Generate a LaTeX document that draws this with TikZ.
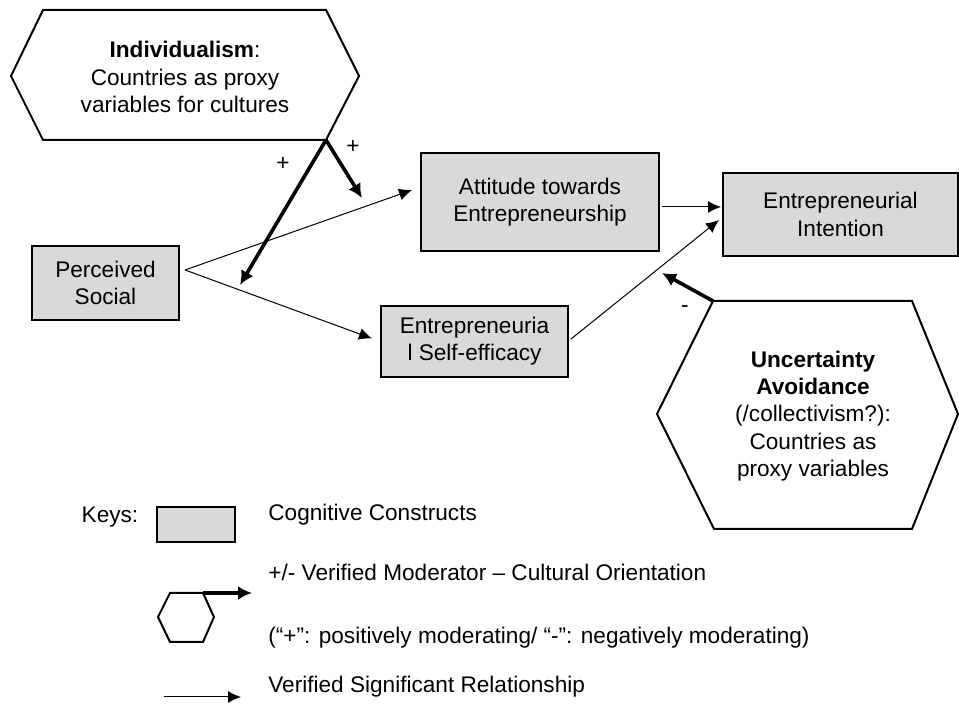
\documentclass[tikz,border=0pt]{standalone}
\usepackage{fontspec}
\setmainfont{Liberation Sans}
\usetikzlibrary{arrows.meta}
\begin{document}
\begin{tikzpicture}[x=0.5pt, y=-0.5pt, >={Latex[length=6.5pt,width=6pt]},
  font=\fontsize{11.3}{13.6}\selectfont,
  cog/.style={draw, line width=1pt, fill=black!15, align=center, inner sep=0pt},
  hexa/.style={line width=1pt, line join=miter},
  rel/.style={->, line width=0.5pt},
  moder/.style={-{Latex[length=7pt,width=7pt]}, line width=1.8pt},
  lab/.style={anchor=west, inner sep=0pt}]
\useasboundingbox (0,0) rectangle (959,704);
% cognitive constructs
\node[cog, minimum width=73.5pt, minimum height=37pt] (perc) at (105.5,283) {Perceived\\Social};
\node[cog, minimum width=119pt, minimum height=49pt] (att) at (540,202) {Attitude towards\\Entrepreneurship};
\node[cog, minimum width=117.5pt, minimum height=41.5pt] (intent) at (840.5,214.5) {Entrepreneurial\\Intention};
\node[cog, minimum width=93.5pt, minimum height=35.5pt] (eff) at (474.5,341.5) {Entrepreneuria\\l Self-efficacy};
% cultural orientations
\draw[hexa] (11,76) -- (43,10) -- (326,10) -- (359,76) -- (326,140) coordinate (indiv-br) -- (43,140) -- cycle;
\node[align=center] (indiv) at (185,77) {\textbf{Individualism}:\\Countries as proxy\\variables for cultures};
\draw[hexa] (657,414) -- (713,301) coordinate (unc-tl) -- (912,301) -- (958,414) -- (912,529) -- (714,529) -- cycle;
\node[align=center] (unc) at (813,416) {\textbf{Uncertainty}\\\textbf{Avoidance}\\(/collectivism?):\\Countries as\\proxy variables};
% moderators
\coordinate (ma) at (362,198);
\coordinate (ms) at (240,285);
\coordinate (mi) at (662,273);
\draw[moder] (indiv-br) -- (ma);
\draw[moder] (indiv-br) -- (ms);
\draw[moder] (unc-tl) -- (mi);
\node (p1) at (353,147) {+};
\node (p2) at (283,164) {+};
\node (m1) at (685,309) {-};
% relationships
\coordinate (fork) at (185,270);
\draw[rel] (fork) -- ([shift={(-8,-12)}]att.west);
\draw[rel] (fork) -- ([shift={(-8,-3)}]eff.west);
\draw[rel] ([shift={(2,5)}]att.east) -- ([shift={(-1,-7.5)}]intent.west);
\draw[rel] ([shift={(2,-2.5)}]eff.east) -- ([shift={(-3,5.5)}]intent.west);
% keys
\node (keys) at (110,517) {Keys:};
\node[cog, minimum width=39pt, minimum height=17.5pt] (keybox) at (196,524.5) {};
\node[lab] (t1) at (268,515) {Cognitive Constructs};
\node[lab] (t2) at (268,572) {+/- Verified Moderator – Cultural Orientation};
\draw[hexa] (158,617) -- (170,593) -- (203,593) coordinate (kh) -- (214,617) -- (203,642) -- (170,642) -- cycle;
\coordinate (kha) at (252,593);
\draw[moder] (kh) -- (kha);
\node[lab] (t3) at (268,638) {(“+”: positively moderating/ “-”: negatively moderating)};
\coordinate (kr1) at (164,697);
\coordinate (kr2) at (241,697);
\draw[rel] (kr1) -- (kr2);
\node[lab] (t4) at (268,687) {Verified Significant Relationship};
\end{tikzpicture}
\end{document}
